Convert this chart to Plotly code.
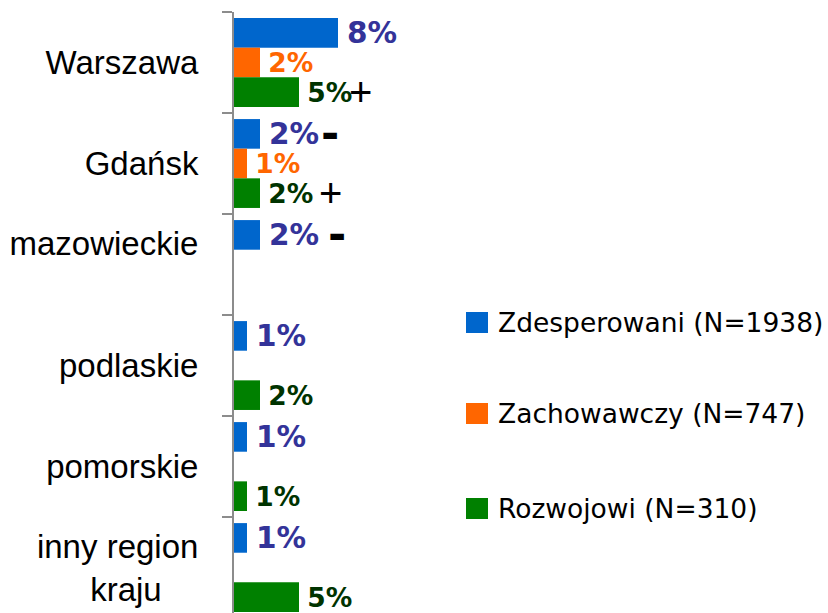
import plotly.graph_objects as go

# ---- data ----
categories = ["Warszawa", "Gdańsk", "mazowieckie<br>\u00a0", "podlaskie", "pomorskie", "inny region<br>kraju\u00a0\u00a0\u00a0\u00a0"]
series_names = ["Zdesperowani (N=1938)", "Zachowawczy (N=747)", "Rozwojowi (N=310)"]
zdesperowani = [8, 2, 2, 1, 1, 1]
zachowawczy = [2, 1, None, None, None, None]
rozwojowi = [5, 2, None, 2, 1, 5]
# significance markers: (category index, series index, symbol)
markers = [(0, 2, "+"), (1, 0, "-"), (1, 2, "+"), (2, 0, "-")]

# ---- style ----
W, H = 828, 613
ML, MR, MT, MB = 234, 0, 12, 0
PX_PER_UNIT = 13.0
bar_colors = ["#0066CC", "#FF6600", "#008000"]
label_colors = ["#333399", "#FF6600", "#003300"]
label_sizes = [29.5, 26.5, 26.5]
marker_xshift = {(0, 2): 61, (1, 0): 70, (1, 2): 70, (2, 0): 77}
slot_px = 0.88 * (H - MT - MB) / 5.95 / 3

plot_w = W - ML - MR
plot_h = H - MT - MB

fig = go.Figure()
series = [zdesperowani, zachowawczy, rozwojowi]
for i, (name, vals) in enumerate(zip(series_names, series)):
    fig.add_trace(go.Bar(
        y=categories, x=vals, orientation="h", name=name,
        marker=dict(color=bar_colors[i], line=dict(width=0)),
        text=[("\u2009%d%%" % v) if v is not None else "" for v in vals],
        textposition="outside", constraintext="none", cliponaxis=False,
        textfont=dict(family="DejaVu Sans", size=label_sizes[i], color=label_colors[i], weight="bold"),
        hoverinfo="skip", showlegend=False,
    ))

# significance markers
for ci, si, sym in markers:
    val = series[si][ci]
    if sym == "+":
        font = dict(family="Liberation Sans", size=40, color="black")
    else:
        font = dict(family="DejaVu Sans", size=44, color="black")
    fig.add_annotation(
        x=val, y=categories[ci], xref="x", yref="y", text=sym if sym == "+" else "<b>-</b>",
        showarrow=False, xanchor="center", yanchor="middle",
        xshift=marker_xshift[(ci, si)], yshift=(1 - si) * slot_px,
        font=font,
    )

# manual legend
def px_to_paper(px, py):
    return (px - ML) / plot_w, (H - MB - py) / plot_h

legend_centers = [322.5, 413.5, 508.5]
for i, name in enumerate(series_names):
    cy = legend_centers[i]
    x0, y0 = px_to_paper(466, cy + 10.5)
    x1, y1 = px_to_paper(488, cy - 10.5)
    fig.add_shape(type="rect", xref="paper", yref="paper", x0=x0, x1=x1, y0=y0, y1=y1,
                  fillcolor=bar_colors[i], line=dict(width=0))
    tx, ty = px_to_paper(496, cy)
    fig.add_annotation(xref="paper", yref="paper", x=tx, y=ty, text=name, showarrow=False,
                       xanchor="left", yanchor="middle",
                       font=dict(family="DejaVu Sans", size=26.5, color="black"))

fig.update_layout(
    width=W, height=H,
    margin=dict(l=ML, r=MR, t=MT, b=MB, pad=0),
    paper_bgcolor="white", plot_bgcolor="white",
    barmode="group", bargap=0.12, bargroupgap=0,
    showlegend=False,
    font=dict(family="Liberation Sans"),
)
fig.update_xaxes(range=[0, plot_w / PX_PER_UNIT], visible=False, showgrid=False, zeroline=False)
fig.update_yaxes(
    autorange=False, range=[5.45, -0.5], type="category",
    showline=True, linecolor="#8c8c8c", linewidth=2,
    ticks="outside", tickson="boundaries", ticklen=10, tickcolor="#8c8c8c", tickwidth=2,
    tickfont=dict(family="Liberation Sans", size=33, color="black"),
    ticklabelstandoff=27, showgrid=False, zeroline=False,
)

fig.write_html("out.html", config={"displayModeBar": False},
               post_script="document.body.style.margin='0';document.body.style.overflow='hidden';")
